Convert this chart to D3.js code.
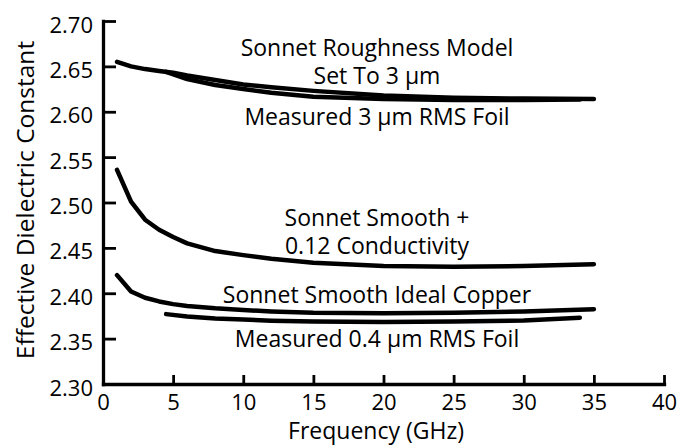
<!DOCTYPE html>
<html>
<head>
<meta charset="utf-8">
<script src="https://cdn.jsdelivr.net/npm/d3@7"></script>
<style>
  body { margin: 0; background: #fff; }
  text { font-family: "Open Sans", sans-serif; fill: #000; }
</style>
</head>
<body>
<div id="chart"></div>
<script>
// frequencies (GHz) for the simulated curves
const simFreq = [1, 2, 3, 4, 5, 6, 8, 10, 12, 15, 20, 25, 30, 35];
// frequencies for the measured curves
const measFreq = [4.5, 6, 8, 10, 12, 15, 20, 25, 30, 34];

const roughModel = [2.655, 2.650, 2.647, 2.645, 2.643, 2.640, 2.635, 2.630, 2.627, 2.623, 2.618, 2.6155, 2.6145, 2.614];
const measured3um = [2.644, 2.636, 2.6295, 2.625, 2.621, 2.6165, 2.614, 2.613, 2.613, 2.6135];
const smoothConductivity = [2.536, 2.501, 2.481, 2.470, 2.462, 2.455, 2.4465, 2.442, 2.438, 2.4337, 2.430, 2.4293, 2.430, 2.432];
const idealCopper = [2.420, 2.402, 2.395, 2.391, 2.388, 2.386, 2.3834, 2.3815, 2.380, 2.3785, 2.378, 2.3785, 2.380, 2.3825];
const measured04um = [2.377, 2.3745, 2.3723, 2.371, 2.3698, 2.3688, 2.3683, 2.3688, 2.370, 2.373];

const xTicks = [0, 5, 10, 15, 20, 25, 30, 35, 40];
const yTicks = [2.30, 2.35, 2.40, 2.45, 2.50, 2.55, 2.60, 2.65, 2.70];

const labels = [
  { lines: ["Sonnet Roughness Model", "Set To 3 µm"], y: 55.5 },
  { lines: ["Measured 3 µm RMS Foil"], y: 125 },
  { lines: ["Sonnet Smooth +", "0.12 Conductivity"], y: 225.5 },
  { lines: ["Sonnet Smooth Ideal Copper"], y: 303 },
  { lines: ["Measured 0.4 µm RMS Foil"], y: 347 },
];

const width = 693, height = 446;
const svg = d3.select("#chart").append("svg")
  .attr("width", width)
  .attr("height", height);

const x = d3.scaleLinear().domain([0, 40]).range([103, 664]);
const y = d3.scaleLinear().domain([2.30, 2.70]).range([384, 21]);

const series = [
  { f: simFreq, v: roughModel },
  { f: measFreq, v: measured3um },
  { f: simFreq, v: smoothConductivity },
  { f: simFreq, v: idealCopper },
  { f: measFreq, v: measured04um },
];

const line = d3.line()
  .x((d) => x(d[0]))
  .y((d) => y(d[1]));

svg.append("g")
  .selectAll("path")
  .data(series)
  .join("path")
  .attr("d", (s) => line(s.f.map((f, i) => [f, s.v[i]])))
  .attr("fill", "none")
  .attr("stroke", "#000")
  .attr("stroke-width", 4.5)
  .attr("stroke-linecap", "round")
  .attr("stroke-linejoin", "round");

// axes, ticks pointing inwards
const xAxis = svg.append("g")
  .attr("transform", `translate(0,${y(2.30)})`)
  .call(d3.axisBottom(x).tickValues(xTicks).tickSizeInner(-9).tickSizeOuter(0).tickPadding(11));

const yAxis = svg.append("g")
  .attr("transform", `translate(${x(0)},0)`)
  .call(d3.axisLeft(y).tickValues(yTicks).tickFormat(d3.format(".2f")).tickSizeInner(-13).tickSizeOuter(0).tickPadding(10));

[xAxis, yAxis].forEach((g) => {
  g.select(".domain").attr("stroke-width", 3.3).attr("stroke-linecap", "square");
  g.selectAll(".tick line").attr("stroke-width", 2.8);
  g.selectAll(".tick text").attr("font-size", 22).attr("font-family", null);
});
yAxis.selectAll(".tick text").attr("dy", "0.5em");
xAxis.selectAll(".tick text").attr("dy", "0.68em");

svg.append("text")
  .attr("x", 376)
  .attr("y", 439)
  .attr("text-anchor", "middle")
  .attr("font-size", 23)
  .text("Frequency (GHz)");

svg.append("text")
  .attr("transform", "translate(34,200) rotate(-90)")
  .attr("text-anchor", "middle")
  .attr("font-size", 24.5)
  .text("Effective Dielectric Constant");

labels.forEach((l) => {
  const t = svg.append("text")
    .attr("x", 377)
    .attr("y", l.y)
    .attr("text-anchor", "middle")
    .attr("font-size", 23);
  l.lines.forEach((s, i) => {
    t.append("tspan").attr("x", 377).attr("dy", i === 0 ? 0 : 28).text(s);
  });
});
</script>
</body>
</html>
